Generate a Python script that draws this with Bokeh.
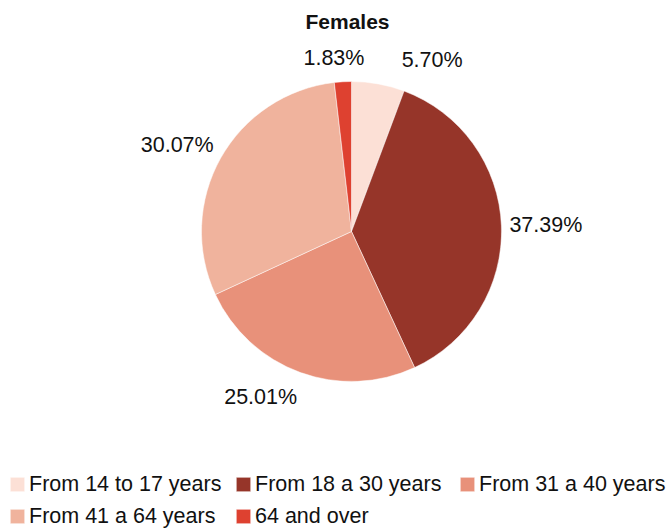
import math
from bokeh.plotting import figure
from bokeh.models import Range1d, Legend, LegendItem, ColumnDataSource
from bokeh.core.properties import value
from bokeh.embed import file_html
from bokeh.resources import INLINE

categories = ["From 14 to 17 years", "From 18 a 30 years", "From 31 a 40 years",
              "From 41 a 64 years", "64 and over"]
shares = [5.70, 37.39, 25.01, 30.07, 1.83]
colors = ["#fce0d6", "#963529", "#e8917a", "#f0b39d", "#de4130"]
title_text = "Females"

W, H = 668, 529
cx, cy, R = 351, H - 231, 150
FONT = "Liberation Sans"

p = figure(width=W, height=H, output_backend="svg", toolbar_location=None,
           x_range=Range1d(0, W), y_range=Range1d(0, H), min_border=0)
p.axis.visible = False
p.grid.visible = False
p.outline_line_color = None

total = sum(shares)
starts, ends, mids = [], [], []
a = math.pi / 2
for s in shares:
    sweep = 2 * math.pi * s / total
    starts.append(a)
    ends.append(a - sweep)
    mids.append(a - sweep / 2)
    a -= sweep

src = ColumnDataSource(dict(start=starts, end=ends, color=colors, cat=categories))
r = p.wedge(x=cx, y=cy, radius=R, start_angle="start", end_angle="end",
            direction="clock", fill_color="color", line_color="white",
            line_width=0.5, source=src)

# labels
lx, ly, la, lt = [], [], [], []
for m, s in zip(mids, shares):
    c, sn = math.cos(m), math.sin(m)
    rr = R + 8
    x = cx + rr * c
    y = cy + rr * sn + sn * 18
    if sn > 0.9:  # labels near the top are pushed right a little
        x += 22
        y -= 2
    lx.append(x)
    ly.append(y)
    la.append("left" if c >= 0 else "right")
    lt.append(f"{s:.2f}%")
p.text(x=lx, y=ly, text=lt, text_align=la, text_baseline="middle",
       text_font=value(FONT), text_font_size="21.5px", text_color="#111111")

p.text(x=[cx - 4], y=[H - 21], text=[title_text], text_align="center", text_baseline="middle",
       text_font=value(FONT), text_font_size="21px", text_font_style="bold",
       text_color="#111111")

# legend: three columns of equal width, two rows
col_x = [8, 234, 458]
ncol = 3
pitch = 32
for ci, x0 in enumerate(col_x):
    idx = [i for i in range(len(categories)) if i % ncol == ci]
    items = [LegendItem(label=categories[i], renderers=[r], index=i) for i in idx]
    nrows_here = len(idx)
    legend = Legend(items=items, orientation="vertical",
                    location=(x0, (2 - nrows_here) * pitch),
                    label_text_font=FONT, label_text_font_size="21.5px",
                    label_text_color="#111111", glyph_width=18, glyph_height=18,
                    label_standoff=3, spacing=6, padding=0, margin=0,
                    border_line_color=None, background_fill_alpha=0, label_height=26)
    p.add_layout(legend)

open("out.html", "w").write(file_html(p, INLINE))
